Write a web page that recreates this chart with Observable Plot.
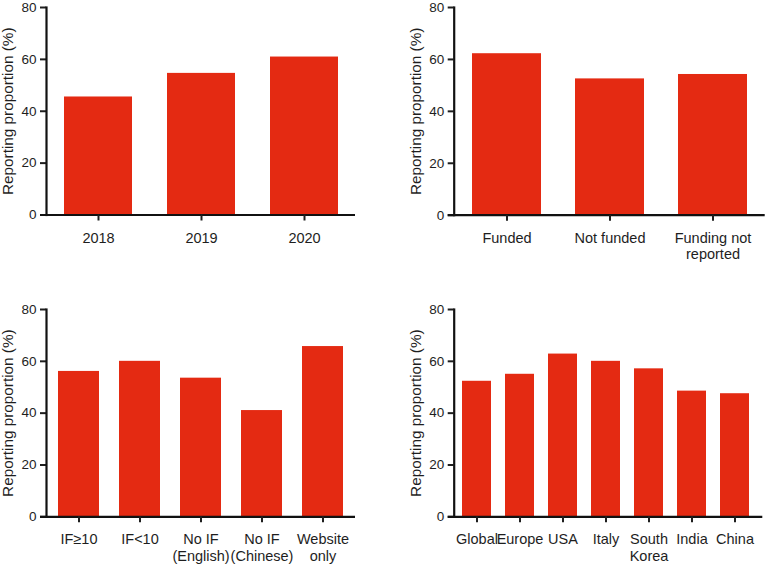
<!DOCTYPE html>
<html><head><meta charset="utf-8">
<script src="https://cdn.jsdelivr.net/npm/d3@7"></script>
<script src="https://cdn.jsdelivr.net/npm/@observablehq/plot@0.6"></script>
<style>
body{margin:0;background:#fff;}
#wrap{position:relative;width:767px;height:564px;overflow:hidden;}
.p{position:absolute;}
</style></head><body><div id="wrap"></div>
<script>
const years = ["2018", "2019", "2020"];
const yearValues = [45.5, 54.6, 60.9];
const funding = ["Funded", "Not funded", "Funding not\nreported"];
const fundingValues = [62.2, 52.5, 54.2];
const journals = ["IF≥10", "IF<10", "No IF\n(English)", "No IF\n(Chinese)", "Website\nonly"];
const journalValues = [56.1, 60.0, 53.5, 41.0, 65.7];
const regions = ["Global", "Europe", "USA", "Italy", "South\nKorea", "India", "China"];
const regionValues = [52.3, 55.0, 62.8, 60.0, 57.1, 48.5, 47.5];
const yTicks = [0, 20, 40, 60, 80];
const yLabel = "Reporting proportion (%)";

const FONT = "'Liberation Sans', Arial, Helvetica, sans-serif";

function panel(cats, vals, o) {
  const data = cats.map((c, i) => ({c, v: vals[i]}));
  const svg = Plot.plot({
    width: o.width, height: o.height,
    marginLeft: o.ml, marginRight: o.mr, marginTop: o.mt, marginBottom: o.mb,
    style: {fontFamily: FONT, fontSize: "14.5px", color: "#1e1e1e", background: "#fff", overflow: "visible"},
    x: {domain: cats, paddingInner: o.pi, paddingOuter: o.po, align: o.align ?? 0.5, label: null},
    y: {domain: [0, 80], label: null},
    marks: [
      Plot.barY(data, {x: "c", y: "v", fill: "#e42a12"}),
      Plot.axisY({ticks: yTicks, tickSize: 6, tickPadding: 4, fontSize: 13, strokeWidth: 2,
        label: yLabel, labelAnchor: "center", labelOffset: 44, labelArrow: "none"}),
      Plot.frame({anchor: "left", strokeWidth: 2.2, stroke: "#111"}),
      Plot.ruleY([0], {strokeWidth: 2.2, stroke: "#111", insetLeft: -6}),
      Plot.axisX({tickSize: 6, tickPadding: 10, fontSize: 14.5, strokeWidth: 2, lineHeight: 1.12, label: null})
    ]
  });
  svg.classList.add("p");
  svg.style.left = o.left + "px";
  svg.style.top = o.top + "px";
  svg.querySelectorAll('g[aria-label="y-axis tick label"]').forEach(g => g.setAttribute("font-size", "13.5"));
  svg.querySelectorAll('g[aria-label="y-axis label"]').forEach(g => g.setAttribute("font-size", "15.3"));
  svg.querySelectorAll('g[aria-label="x-axis tick label"]').forEach(g => g.setAttribute("font-size", "14.5"));
  document.getElementById("wrap").appendChild(svg);
}

panel(years, yearValues, {left: 0, top: 0, width: 383, height: 280, ml: 46, mr: 28, mt: 7, mb: 65.5, pi: 0.34, po: 0.17});
panel(funding, fundingValues, {left: 383, top: 0, width: 384, height: 280, ml: 70.7, mr: 2.3, mt: 7, mb: 65.3, pi: 0.33, po: 0.165});
panel(journals, journalValues, {left: 0, top: 280, width: 383, height: 284, ml: 46, mr: 28, mt: 29, mb: 47.7, pi: 0.335, po: 0.17});
panel(regions, regionValues, {left: 383, top: 280, width: 384, height: 284, ml: 70.7, mr: 4.7, mt: 29, mb: 47.7, pi: 0.33, po: 0.19, align: 0.4});
</script></body></html>
